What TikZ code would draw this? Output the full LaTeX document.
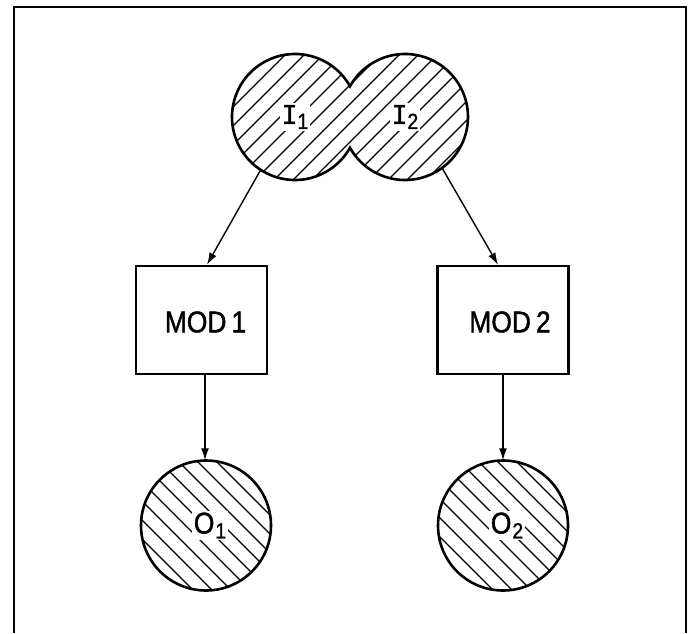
\documentclass[tikz,border=0pt]{standalone}
\usepackage{fontspec}
\setmainfont{Liberation Sans}
\newfontfamily\labf[FakeStretch=0.88,FakeBold=1.3]{Liberation Sans}
\newfontfamily\ifont[FakeBold=1.3]{DejaVu Sans Mono}
\usetikzlibrary{arrows.meta}
\newcommand{\subdig}[1]{\raisebox{-5pt}{\fontsize{22}{22}\selectfont #1}}
\begin{document}
\begin{tikzpicture}[x=1pt,y=1pt,
  outline/.style={line width=2.6pt},
  hatch/.style={line width=1.3pt},
  arr/.style={line width=1.4pt,-{Latex[length=12pt,width=8pt]}},
  modbox/.style={draw,line width=2.6pt,minimum width=131pt,minimum height=108pt,inner sep=0pt},
  ring/.style={circle,inner sep=0pt},
  lbl/.style={fill=white,inner sep=2pt,font=\labf\fontsize{30}{30}\selectfont},
  txt/.style={inner sep=1pt,font=\labf\fontsize{30}{30}\selectfont}]
\useasboundingbox (0,0) rectangle (692,633);
% frame
\coordinate (f1) at (14,0);
\coordinate (f2) at (14,626);
\coordinate (f3) at (686,626);
\coordinate (f4) at (686,0);
\draw[outline] (f1) -- (f2) -- (f3) -- (f4);
% circle nodes
\node[ring,minimum size=126pt] (I1) at (295,516) {};
\node[ring,minimum size=126pt] (I2) at (405,516) {};
\node[ring,minimum size=130pt] (O1) at (206,107.5) {};
\node[ring,minimum size=130pt] (O2) at (503,107.5) {};
% hatching of inputs
\begin{scope}
  \clip (I1.center) circle (63) (I2.center) circle (63);
  \foreach \c in {-30,-11,...,360} \draw[hatch] (200,200+\c) -- (500,500+\c);
\end{scope}
\draw[outline] ([shift={(29.2:63)}]I1.center) arc[start angle=29.2,end angle=330.8,radius=63]
  arc[start angle=-150.8,end angle=150.8,radius=63] -- cycle;
% hatching of outputs
\begin{scope}
  \clip (O1.center) circle (65);
  \foreach \c in {160,179,...,460} \draw[hatch] (100,\c-100) -- (300,\c-300);
\end{scope}
\begin{scope}
  \clip (O2.center) circle (65);
  \foreach \c in {460,479,...,760} \draw[hatch] (400,\c-400) -- (600,\c-600);
\end{scope}
\draw[outline] (O1.center) circle (65);
\draw[outline] (O2.center) circle (65);
% labels
\node[lbl] (tI1) at (I1.center) {{\ifont\fontsize{26}{26}\selectfont I}\subdig{1}};
\node[lbl] (tI2) at (I2.center) {{\ifont\fontsize{26}{26}\selectfont I}\subdig{2}};
\node[lbl] (tO1) at ([xshift=4pt]O1.center) {O\kern1pt\subdig{1}};
\node[lbl] (tO2) at ([xshift=4pt]O2.center) {O\kern1pt\subdig{2}};
% modules
\node[modbox] (M1) at (201.5,313) {};
\node[modbox] (M2) at (503,313) {};
\node[txt] (tM1) at ([xshift=4pt,yshift=-2pt]M1.center) {MOD\,1};
\node[txt] (tM2) at ([xshift=7pt,yshift=-2pt]M2.center) {MOD\,2};
% connectors
\draw[arr] (I1.237) -- ([xshift=5.5pt]M1.north);
\draw[arr] (I2.306) -- ([xshift=-5pt]M2.north);
\draw[arr] ([xshift=3.5pt]M1.south) -- ([xshift=-1pt]O1.north);
\draw[arr] (M2.south) -- (O2.north);
\end{tikzpicture}
\end{document}
